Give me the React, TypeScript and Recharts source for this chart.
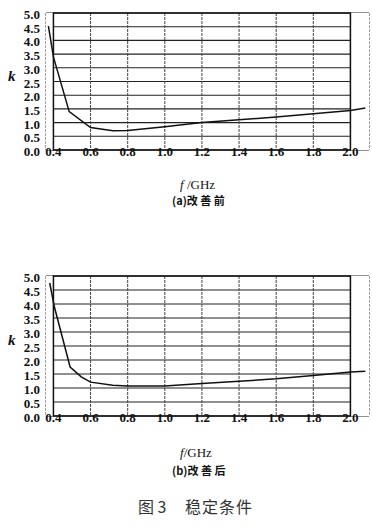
import { LineChart, Line, XAxis, YAxis, ReferenceArea, CartesianGrid } from "recharts";

const freqTicks = [0.4, 0.6, 0.8, 1.0, 1.2, 1.4, 1.6, 1.8, 2.0];
const kTicks = [0, 0.5, 1.0, 1.5, 2.0, 2.5, 3.0, 3.5, 4.0, 4.5, 5.0];
const freqDomain = [0.36, 2.1];

// (a) before improvement
const freqA = [0.373, 0.4, 0.485, 0.6, 0.72, 0.8, 1.0, 1.2, 1.4, 1.6, 1.8, 2.0, 2.08];
const kA = [4.52, 3.4, 1.4, 0.82, 0.7, 0.71, 0.85, 1.0, 1.1, 1.2, 1.32, 1.44, 1.53];

// (b) after improvement
const freqB = [0.38, 0.405, 0.49, 0.55, 0.6, 0.72, 0.8, 1.0, 1.2, 1.4, 1.6, 1.8, 2.0, 2.08];
const kB = [4.75, 3.9, 1.75, 1.4, 1.21, 1.1, 1.07, 1.07, 1.16, 1.24, 1.33, 1.45, 1.57, 1.6];

const serif = '"Liberation Serif", "DejaVu Serif", serif';
const cjk = '"Noto Sans CJK SC", sans-serif';

const XTick = (props: any) => {
  const { x, y, payload } = props;
  return (
    <text x={x} y={y + 4} textAnchor="middle" fontFamily={serif} fontSize={13} fontWeight="bold" fill="#111">
      {payload.value.toFixed(1)}
    </text>
  );
};

const YTick = (props: any) => {
  const { x, y, payload } = props;
  return (
    <text x={x} y={y + 6} textAnchor="end" fontFamily={serif} fontSize={13} fontWeight="bold" fill="#111">
      {payload.value.toFixed(1)}
    </text>
  );
};

function KPanel({ freq, k, top, marginTop, marginBottom }: { freq: number[]; k: number[]; top: number; marginTop: number; marginBottom: number }) {
  const data = freq.map((f, i) => ({ f, k: k[i] }));
  return (
    <div style={{ position: "absolute", left: 0, top }}>
      <LineChart width={372} height={200} data={data} margin={{ top: marginTop, right: 3, bottom: marginBottom, left: 0 }}>
        <CartesianGrid vertical={false} stroke="#222" strokeWidth={1.1} />
        <CartesianGrid horizontal={false} stroke="#444" strokeDasharray="3 1" />
        <XAxis
          dataKey="f"
          type="number"
          domain={freqDomain}
          ticks={freqTicks}
          axisLine={false}
          tickLine={false}
          tickSize={0}
          height={30}
          tick={<XTick />}
          interval={0}
        />
        <YAxis
          type="number"
          domain={[0, 5]}
          ticks={kTicks}
          axisLine={false}
          tickLine={false}
          tickSize={0}
          tickMargin={6}
          width={46}
          tick={<YTick />}
          interval={0}
        />
        {/* hide grid overhang outside the 0.4–2.0 frame */}
        <ReferenceArea x1={freqDomain[0]} x2={0.4} y1={0} y2={5} fill="#fff" fillOpacity={1} stroke="none" />
        <ReferenceArea x1={2.0} x2={freqDomain[1]} y1={0} y2={5} fill="#fff" fillOpacity={1} stroke="none" />
        <ReferenceArea x1={0.4} x2={2.0} y1={0} y2={5} fill="none" stroke="#111" strokeWidth={1.5} />
        <Line
          dataKey="k"
          type="linear"
          stroke="#111"
          strokeWidth={1.5}
          dot={false}
          isAnimationActive={false}
        />
      </LineChart>
    </div>
  );
}

export default function App() {
  const abs = (left: number, top: number, extra: any = {}) => ({
    position: "absolute" as const,
    left,
    top,
    whiteSpace: "nowrap" as const,
    ...extra,
  });
  return (
    <div style={{ position: "absolute", left: 0, top: 0, width: 372, height: 528, background: "#fff", color: "#111" }}>
      <KPanel freq={freqA} k={kA} top={0} marginTop={13} marginBottom={20} />
      <KPanel freq={freqB} k={kB} top={262} marginTop={14} marginBottom={16} />

      <div style={abs(8, 68, { fontFamily: serif, fontStyle: "italic", fontWeight: "bold", fontSize: 15 })}>k</div>
      <div style={abs(180, 177, { fontFamily: serif, fontSize: 13 })}>
        <i>f</i> /GHz
      </div>
      <div style={abs(172, 192, { fontFamily: cjk, fontSize: 11, fontWeight: "bold" })}>(a)改 善 前</div>

      <div style={abs(8, 332, { fontFamily: serif, fontStyle: "italic", fontWeight: "bold", fontSize: 15 })}>k</div>
      <div style={abs(180, 445, { fontFamily: serif, fontSize: 13 })}>
        <i>f</i>/GHz
      </div>
      <div style={abs(172, 462, { fontFamily: cjk, fontSize: 11, fontWeight: "bold" })}>(b)改 善 后</div>

      <div style={abs(138, 494, { fontFamily: cjk, fontSize: 16, color: "#333" })}>
        图 3
      </div>
      <div style={abs(185, 494, { fontFamily: cjk, fontSize: 16, color: "#333", letterSpacing: 1 })}>
        稳定条件
      </div>
    </div>
  );
}
